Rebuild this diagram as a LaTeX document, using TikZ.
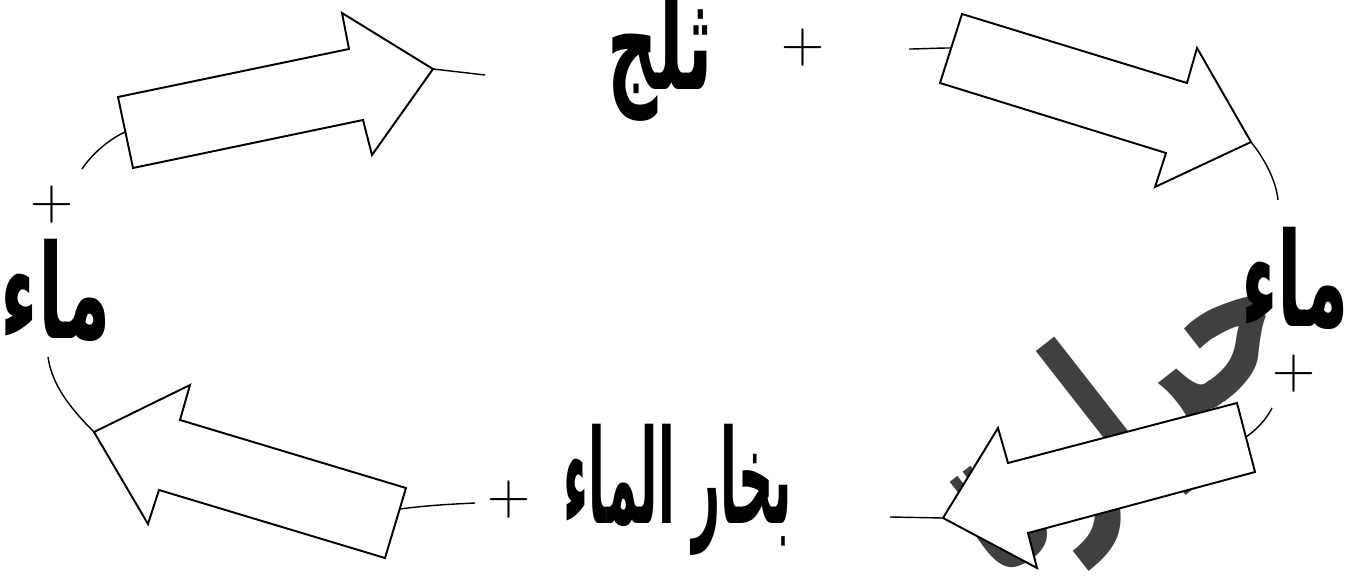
\documentclass[tikz,border=0pt]{standalone}
\usepackage{fontspec}
\newfontfamily\arabicfont[Script=Arabic]{DejaVu Sans}
\TeXXeTstate=1
\usepackage{graphicx}
\usepackage{tikz}
\definecolor{heatgray}{RGB}{64,64,64}
\newcommand{\arword}[2]{\scalebox{#1}[1.55]{#2}}

\begin{document}
\begin{tikzpicture}[x=0.02cm, y=-0.02cm, line width=1.1pt,
    blockarrow/.style={draw, fill=white, line join=miter},
    link/.style={line width=0.8pt},
    word/.style={font=\arabicfont\bfseries\fontsize{48}{48}\selectfont, inner sep=0pt},
    plus/.style={font=\fontsize{34}{34}\selectfont, inner sep=0pt}]
    \useasboundingbox (0,0) rectangle (1364,580);

    \node[word, text=heatgray, rotate=38, font=\arabicfont\bfseries\fontsize{90}{90}\selectfont] (heat) at (1118,418) {\scalebox{0.85}[1.3]{\beginR حرارة\endR}};

    \node[word] (snow) at (660,56) {\arword{0.83}{\beginR ثلج\endR}};
    \node[word] (waterL) at (56,290) {\arword{0.87}{\beginR ماء\endR}};
    \node[word] (waterR) at (1295,278) {\arword{0.85}{\beginR ماء\endR}};
    \node[word] (steam) at (678,490) {\arword{0.58}{\beginR بخار الماء\endR}};

    \node[plus] (plusT) at (803,48) {+};
    \node[plus] (plusL) at (52,205) {+};
    \node[plus] (plusR) at (1294,374) {+};
    \node[plus] (plusB) at (509,500) {+};

    \coordinate (tipA) at (433,69);
    \coordinate (tailA) at (125,132);
    \coordinate (tipB) at (1251,142);
    \coordinate (tailB) at (951,48);
    \coordinate (tipC) at (943,518);
    \coordinate (tailC) at (1246,437);
    \coordinate (tipD) at (94,432);
    \coordinate (tailD) at (400,509);

    \coordinate (endA) at (485,75);
    \coordinate (endAA) at (82,169);
    \coordinate (endB) at (909,49);
    \coordinate (endBB) at (1278,200);
    \coordinate (endC) at (890,517);
    \coordinate (endCC) at (1272,408);
    \coordinate (endD) at (475,503);
    \coordinate (endDD) at (48,357);

    \draw[blockarrow] (118,97) -- (349,49) -- (342,13) -- (tipA) -- (372,155) -- (363,120) -- (133,168) -- cycle;
    \draw[blockarrow] (962,14) -- (1187,83) -- (1197,48) -- (tipB) -- (1155,187) -- (1166,153) -- (940,83) -- cycle;
    \draw[blockarrow] (1237,403) -- (1008,463) -- (998,428) -- (tipC) -- (1037,568) -- (1028,533) -- (1255,472) -- cycle;
    \draw[blockarrow] (406,488) -- (180,420) -- (190,385) -- (tipD) -- (148,524) -- (159,490) -- (385,558) -- cycle;

    \draw[link] (tipA) -- (endA);
    \draw[link] (tailA) .. controls (108,140) and (92,154) .. (endAA);
    \draw[link] (tailB) .. controls (935,48) and (920,49) .. (endB);
    \draw[link] (tipB) .. controls (1264,158) and (1276,180) .. (endBB);
    \draw[link] (tipC) -- (endC);
    \draw[link] (tailC) .. controls (1256,430) and (1266,420) .. (endCC);
    \draw[link] (tailD) .. controls (430,505) and (455,504) .. (endD);
    \draw[link] (tipD) .. controls (70,408) and (52,385) .. (endDD);
\end{tikzpicture}
\end{document}
